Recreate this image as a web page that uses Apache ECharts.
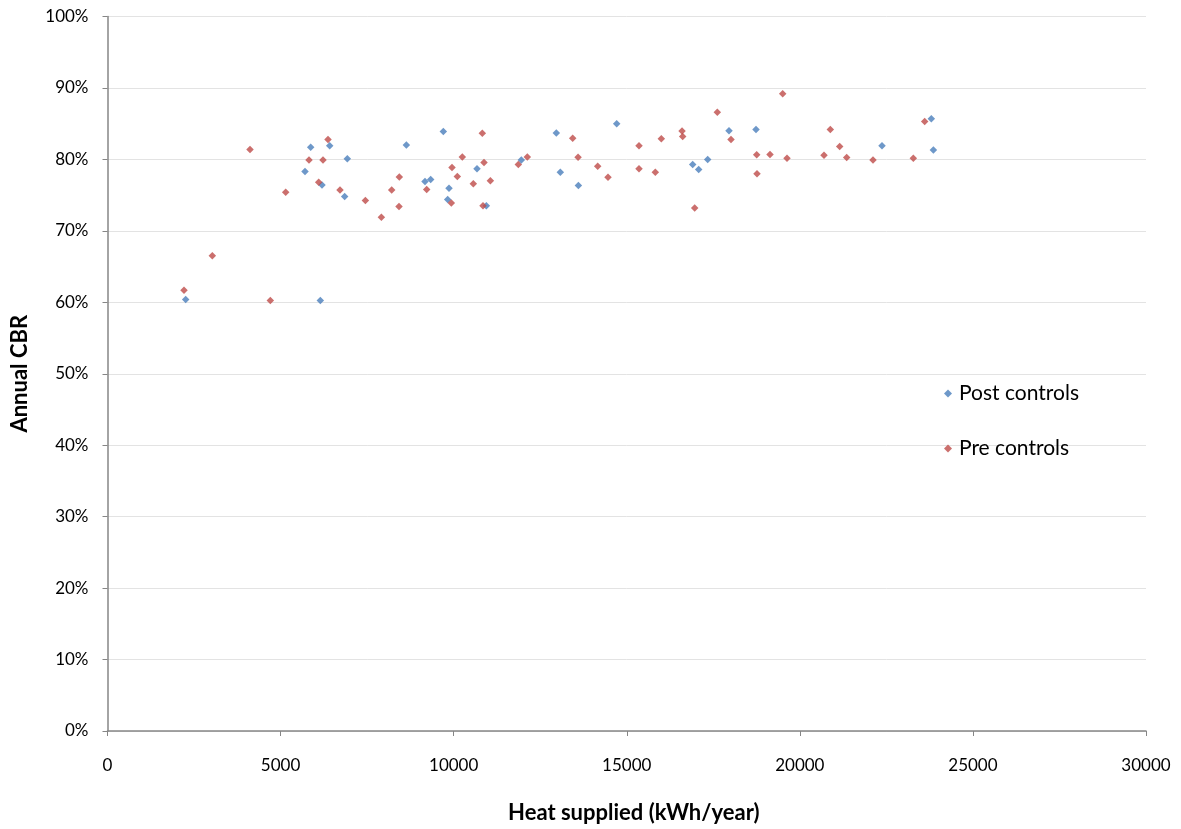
<!DOCTYPE html>
<html>
<head>
<meta charset="utf-8">
<script src="https://cdn.jsdelivr.net/npm/echarts@6/dist/echarts.min.js"></script>
<style>html,body{margin:0;padding:0;background:#fff}#c{width:1181px;height:829px}</style>
</head>
<body>
<div id="c"></div>
<script>
// Post controls (blue): [heat supplied kWh/year, CBR %]
const postControls = [
  [2259, 60.4], [5705, 78.3], [5869, 81.7], [6148, 60.25], [6196, 76.4], [6418, 81.9],
  [6851, 74.8], [6928, 80.1], [8633, 82.0], [9172, 76.9], [9336, 77.2], [9701, 83.9],
  [9827, 74.4], [9865, 75.97], [10674, 78.7], [10944, 73.5], [11955, 79.9], [12966, 83.7],
  [13081, 78.2], [13602, 76.35], [14710, 85.0], [16905, 79.3], [17079, 78.6], [17339, 79.97],
  [17954, 84.0], [18734, 84.2], [22374, 81.9], [23799, 85.7], [23857, 81.3]
];
// Pre controls (red)
const preControls = [
  [2210, 61.7], [3028, 66.5], [4117, 81.4], [4704, 60.25], [5147, 75.4], [5821, 79.9],
  [6100, 76.8], [6225, 79.9], [6370, 82.8], [6716, 75.7], [7449, 74.25], [7911, 71.9],
  [8209, 75.7], [8421, 73.4], [8430, 77.55], [9220, 75.8], [9932, 73.9], [9952, 78.85],
  [10106, 77.6], [10250, 80.35], [10568, 76.6], [10828, 83.65], [10848, 73.5], [10877, 79.55],
  [11060, 77.0], [11868, 79.3], [12128, 80.35], [13439, 82.95], [13593, 80.3], [14161, 79.05],
  [14459, 77.5], [15354, 81.9], [15354, 78.7], [15825, 78.2], [15998, 82.9], [16597, 83.98],
  [16616, 83.2], [16963, 73.2], [17616, 86.6], [18012, 82.8], [18754, 80.65], [18763, 78.0],
  [19138, 80.7], [19505, 89.2], [19629, 80.15], [20698, 80.57], [20880, 84.2], [21152, 81.8],
  [21354, 80.25], [22114, 79.9], [23278, 80.15], [23607, 85.3]
];
const seriesNames = ['Post controls', 'Pre controls'];
const xTitle = 'Heat supplied (kWh/year)';
const yTitle = 'Annual CBR';

const chart = echarts.init(document.getElementById('c'));
const font = 'Lato, "Open Sans", sans-serif';
const axisColor = '#868686';
chart.setOption({
  animation: false,
  backgroundColor: '#fff',
  textStyle: { fontFamily: font },
  grid: { left: 107.5, right: 35, top: 16.5, bottom: 96 },
  legend: {
    orient: 'vertical',
    left: 939,
    top: 378,
    itemGap: 34,
    itemWidth: 8,
    itemHeight: 8,
    icon: 'diamond',
    textStyle: { fontFamily: font, fontSize: 21, color: '#000', lineHeight: 21, padding: [0, 0, 0, 2] },
    data: seriesNames
  },
  xAxis: {
    type: 'value',
    min: 0, max: 30000, interval: 5000,
    name: xTitle,
    nameLocation: 'middle',
    nameGap: 71,
    nameTextStyle: { fontFamily: font, fontSize: 22, fontWeight: 'bold', color: '#000', padding: [0, 0, 0, 14] },
    axisLine: { show: true, lineStyle: { color: axisColor, width: 1.5 } },
    axisTick: { show: true, length: 5, lineStyle: { color: axisColor } },
    axisLabel: { fontFamily: font, fontSize: 17, color: '#000', margin: 26, formatter: (v) => String(v) },
    splitLine: { show: false }
  },
  yAxis: {
    type: 'value',
    min: 0, max: 100, interval: 10,
    name: yTitle,
    nameLocation: 'middle',
    nameGap: 77,
    nameRotate: 90,
    nameTextStyle: { fontFamily: font, fontSize: 22, fontWeight: 'bold', color: '#000', padding: [0, 0, 0, 0] },
    axisLine: { show: true, lineStyle: { color: axisColor, width: 1.5 } },
    axisTick: { show: true, length: 5, inside: false, lineStyle: { color: axisColor } },
    axisLabel: { fontFamily: font, fontSize: 17, color: '#000', margin: 19, formatter: '{value}%' },
    splitLine: { show: true, lineStyle: { color: '#e3e3e3', width: 1 } }
  },
  series: [
    {
      name: seriesNames[0], type: 'scatter', symbol: 'diamond', symbolSize: 7.5,
      itemStyle: { color: '#4A7EBB' }, data: postControls
    },
    {
      name: seriesNames[1], type: 'scatter', symbol: 'diamond', symbolSize: 7.5,
      itemStyle: { color: '#BE4B48' }, data: preControls
    }
  ]
});
</script>
</body>
</html>
